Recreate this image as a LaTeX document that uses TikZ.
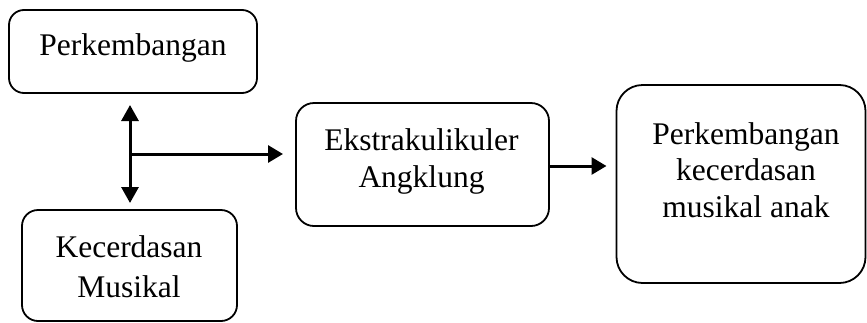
\documentclass[tikz,border=0pt]{standalone}
\usepackage{fontspec}
\setmainfont{Liberation Serif}
\usetikzlibrary{arrows.meta}
\tikzset{
  box/.style={draw, line width=1.8pt, inner sep=0pt, outer sep=0pt},
  lbl/.style={inner sep=0pt, anchor=base, align=center, font=\fontsize{31.5}{37}\selectfont},
  conn/.style={line width=3pt, -{Triangle[length=15pt,width=17pt]}},
  conn2/.style={line width=3pt, {Triangle[length=16pt,width=17pt]}-{Triangle[length=16pt,width=17pt]}}
}
\begin{document}
\begin{tikzpicture}[x=1pt,y=-1pt]
\useasboundingbox (0,0) rectangle (867,322);
% boxes
\node[box, rounded corners=15pt, minimum width=248pt, minimum height=83pt] (b1) at (133,51.5) {};
\node[box, rounded corners=16pt, minimum width=215pt, minimum height=111pt] (b2) at (129.5,265.5) {};
\node[box, rounded corners=18pt, minimum width=253pt, minimum height=123pt] (b3) at (422.5,164.5) {};
\node[box, rounded corners=26pt, minimum width=249pt, minimum height=198pt] (b4) at (741,184) {};
% texts (base anchor = baseline of last line)
\node[lbl] (t1) at (133,55) {Perkembangan};
\node[lbl, font=\fontsize{31.5}{40}\selectfont] (t2) at (129,297) {Kecerdasan\\Musikal};
\node[lbl] (t3) at (421.5,187) {Ekstrakulikuler\\Angklung};
\node[lbl, font=\fontsize{31.5}{36.5}\selectfont] (t4) at (746,217) {Perkembangan\\kecerdasan\\musikal anak};
% connectors
\coordinate (vt) at (130,105);
\coordinate (vb) at (130,203);
\coordinate (hj) at (130,154);
\draw[conn2] (vt) -- (vb);
\draw[conn, shorten >=13pt] (hj) -- (hj -| b3.west);
\draw[conn, shorten >=10pt] (b3.east |- 0,166) -- (b4.west |- 0,166);
\end{tikzpicture}
\end{document}
